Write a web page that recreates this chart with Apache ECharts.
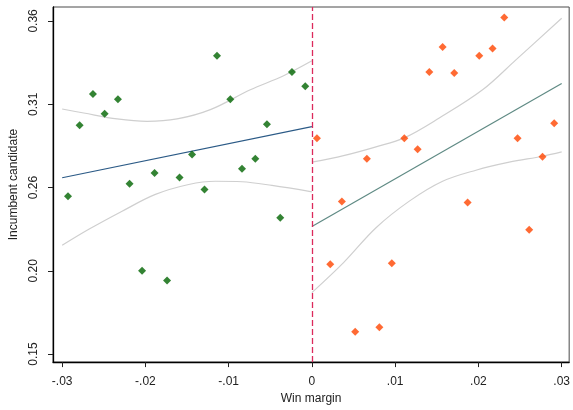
<!DOCTYPE html>
<html><head><meta charset="utf-8">
<script src="https://cdn.jsdelivr.net/npm/echarts@6/dist/echarts.min.js"></script>
<style>html,body{margin:0;padding:0;background:#fff}#c{width:573px;height:410px}</style>
</head><body><div id="c"></div>
<script>
// Left of cutoff (losers) – green diamonds
const leftX = [-0.0293,-0.0279,-0.0263,-0.0249,-0.0233,-0.0219,-0.0204,-0.0189,-0.0174,-0.0159,-0.0144,-0.0129,-0.0114,-0.0098,-0.0084,-0.0068,-0.0054,-0.0038,-0.0024,-0.0008];
const leftY = [0.2516,0.2959,0.3154,0.3031,0.3121,0.2593,0.2051,0.2660,0.1989,0.2633,0.2776,0.2558,0.3393,0.3121,0.2687,0.2749,0.2965,0.2382,0.3291,0.3202];
// Right of cutoff (winners) – orange diamonds
const rightX = [0.0006,0.0022,0.0036,0.0052,0.0066,0.0081,0.0096,0.0111,0.0127,0.0141,0.0157,0.0171,0.0187,0.0201,0.0217,0.0231,0.0247,0.0261,0.0277,0.0291];
const rightY = [0.2878,0.2091,0.2483,0.1669,0.2749,0.1698,0.2097,0.2878,0.2809,0.3291,0.3447,0.3285,0.2477,0.3393,0.3438,0.3631,0.2878,0.2307,0.2762,0.2971];
// Fitted lines
const leftFitX = [-0.0300, 0.0000];
const leftFitY = [0.2631, 0.2950];
const rightFitX = [0.0000, 0.0300];
const rightFitY = [0.2326, 0.3220];
// Confidence bands
const leftUpX = [-0.0300,-0.0274,-0.0234,-0.0198,-0.0162,-0.0122,-0.0074,-0.0034,0.0000];
const leftUpY = [0.3060,0.3035,0.2998,0.2983,0.2998,0.3056,0.3180,0.3268,0.3361];
const leftLoX = [-0.0300,-0.0268,-0.0228,-0.0188,-0.0148,-0.0116,-0.0084,-0.0048,0.0000];
const leftLoY = [0.2209,0.2309,0.2422,0.2527,0.2589,0.2609,0.2606,0.2583,0.2543];
const rightUpX = [0.0000,0.0038,0.0077,0.0111,0.0153,0.0205,0.0245,0.0300];
const rightUpY = [0.2728,0.2769,0.2824,0.2880,0.3004,0.3180,0.3367,0.3627];
const rightLoX = [0.0000,0.0038,0.0077,0.0117,0.0157,0.0197,0.0237,0.0277,0.0300];
const rightLoY = [0.1914,0.2101,0.2319,0.2485,0.2609,0.2678,0.2728,0.2765,0.2792];
// Axis ticks
const xTicks = [-0.03,-0.02,-0.01,0,0.01,0.02,0.03];
const xTickLabels = ['-.03','-.02','-.01','0','.01','.02','.03'];
const yTicks = [0.153,0.205,0.257,0.309,0.361];
const yTickLabels = ['0.15','0.20','0.26','0.31','0.36'];

const zip = (a,b) => a.map((v,i)=>[v,b[i]]);
const font = 'Arial, "Liberation Sans", sans-serif';

const chart = echarts.init(document.getElementById('c'), null, {renderer:'canvas'});
const lineS = (name, xs, ys, color, w) => ({
  type:'line', name, data: zip(xs,ys), showSymbol:false,
  smooth: xs.length>2 ? 0.35 : false,
  lineStyle:{color, width:w}, silent:true, z:2
});
chart.setOption({
  animation:false,
  grid:{left:52, right:3, top:7, bottom:47, show:true, borderColor:'#4a4a4a', borderWidth:1},
  xAxis:{
    type:'value', min:-0.0311, max:0.0309,
    name:'Win margin', nameLocation:'middle', nameGap:30,
    nameTextStyle:{fontFamily:font, fontSize:12, color:'#222'},
    axisLine:{show:true, onZero:false, lineStyle:{color:'#000', width:1.3}},
    axisTick:{show:true, length:5, customValues:xTicks, lineStyle:{color:'#222'}},
    axisLabel:{customValues:xTicks, margin:14, fontFamily:font, fontSize:12, color:'#222',
      formatter:(v)=>{const i = xTicks.findIndex(t=>Math.abs(t-v)<1e-9); return i>=0?xTickLabels[i]:'';}},
    splitLine:{show:false}
  },
  yAxis:{
    type:'value', min:0.148, max:0.3697,
    name:'Incumbent candidate', nameLocation:'middle', nameGap:33,
    nameTextStyle:{fontFamily:font, fontSize:12, color:'#222'},
    axisLine:{show:true, onZero:false, lineStyle:{color:'#000', width:1.3}},
    axisTick:{show:true, length:5, customValues:yTicks, lineStyle:{color:'#222'}},
    axisLabel:{customValues:yTicks, rotate:90, margin:13, fontFamily:font, fontSize:12, color:'#222',
      formatter:(v)=>{const i = yTicks.findIndex(t=>Math.abs(t-v)<1e-9); return i>=0?yTickLabels[i]:'';}},
    splitLine:{show:false}
  },
  series:[
    lineS('lu', leftUpX, leftUpY, '#cfcfcf', 1.2),
    lineS('ll', leftLoX, leftLoY, '#cfcfcf', 1.2),
    lineS('ru', rightUpX, rightUpY, '#cfcfcf', 1.2),
    lineS('rl', rightLoX, rightLoY, '#cfcfcf', 1.2),
    lineS('lf', leftFitX, leftFitY, '#2b5a86', 1.2),
    lineS('rf', rightFitX, rightFitY, '#5f8a84', 1.2),
    {type:'scatter', data: zip(leftX,leftY), symbol:'diamond', symbolSize:8,
      itemStyle:{color:'#006400'}, z:3},
    {type:'scatter', data: zip(rightX,rightY), symbol:'diamond', symbolSize:8,
      itemStyle:{color:'#ff4500'}, z:3},
    {type:'line', data:[], silent:true,
      markLine:{silent:true, symbol:'none', label:{show:false},
        lineStyle:{color:'#dc2a5c', type:[6,3], width:1.3},
        data:[{xAxis:0}]}}
  ]
});
</script></body></html>
